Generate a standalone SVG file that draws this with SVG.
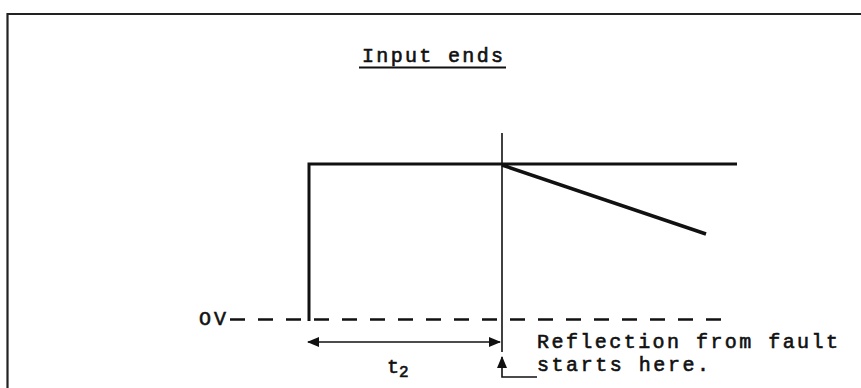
<svg xmlns="http://www.w3.org/2000/svg" width="861" height="388" viewBox="0 0 861 388">
<defs>
<style>
.t{font-family:"Liberation Mono","Courier New",monospace;font-size:20px;fill:#111;stroke:#111;stroke-width:0.6}
.thin{stroke:#111;stroke-width:1.6;fill:none}
.thick{stroke:#111;stroke-width:3;fill:none}
</style>
<marker id="ah" viewBox="0 0 12 10" refX="11" refY="5" markerWidth="12" markerHeight="10" markerUnits="userSpaceOnUse" orient="auto-start-reverse">
<path d="M0,0 L12,5 L0,10 Z" fill="#111"/>
</marker>
</defs>
<rect width="861" height="388" fill="#fff"/>
<g id="frame">
<path d="M7.5,388 V14 H861" stroke="#222" stroke-width="2.2" fill="none"/>
</g>
<g id="title">
<text class="t" x="362" y="62" textLength="141" lengthAdjust="spacing">Input ends</text>
<line x1="359" y1="67.5" x2="506" y2="67.5" stroke="#111" stroke-width="2"/>
</g>
<g id="waveform">
<path class="thick" d="M309,321 V164 H737"/>
<line x1="502" y1="165" x2="706" y2="234" stroke="#111" stroke-width="3.5"/>
</g>
<g id="baseline">
<text class="t" x="199" y="325" textLength="27" lengthAdjust="spacing">OV</text>
<line x1="230" y1="319.5" x2="731" y2="319.5" stroke="#111" stroke-width="2.5" stroke-dasharray="15 13"/>
</g>
<g id="connectors">
<line class="thin" x1="502" y1="133" x2="502" y2="352"/>
<line class="thin" x1="308" y1="342" x2="500" y2="342" marker-start="url(#ah)" marker-end="url(#ah)"/>
<path class="thin" d="M537,377 H502 V357" marker-end="url(#ah)"/>
</g>
<g id="labels">
<text class="t" x="387" y="373" font-size="23">t<tspan font-size="16" dy="4">2</tspan></text>
<text class="t" x="537" y="348" textLength="301" lengthAdjust="spacing">Reflection from fault</text>
<text class="t" x="537" y="371" textLength="172" lengthAdjust="spacing">starts here.</text>
</g>
</svg>
